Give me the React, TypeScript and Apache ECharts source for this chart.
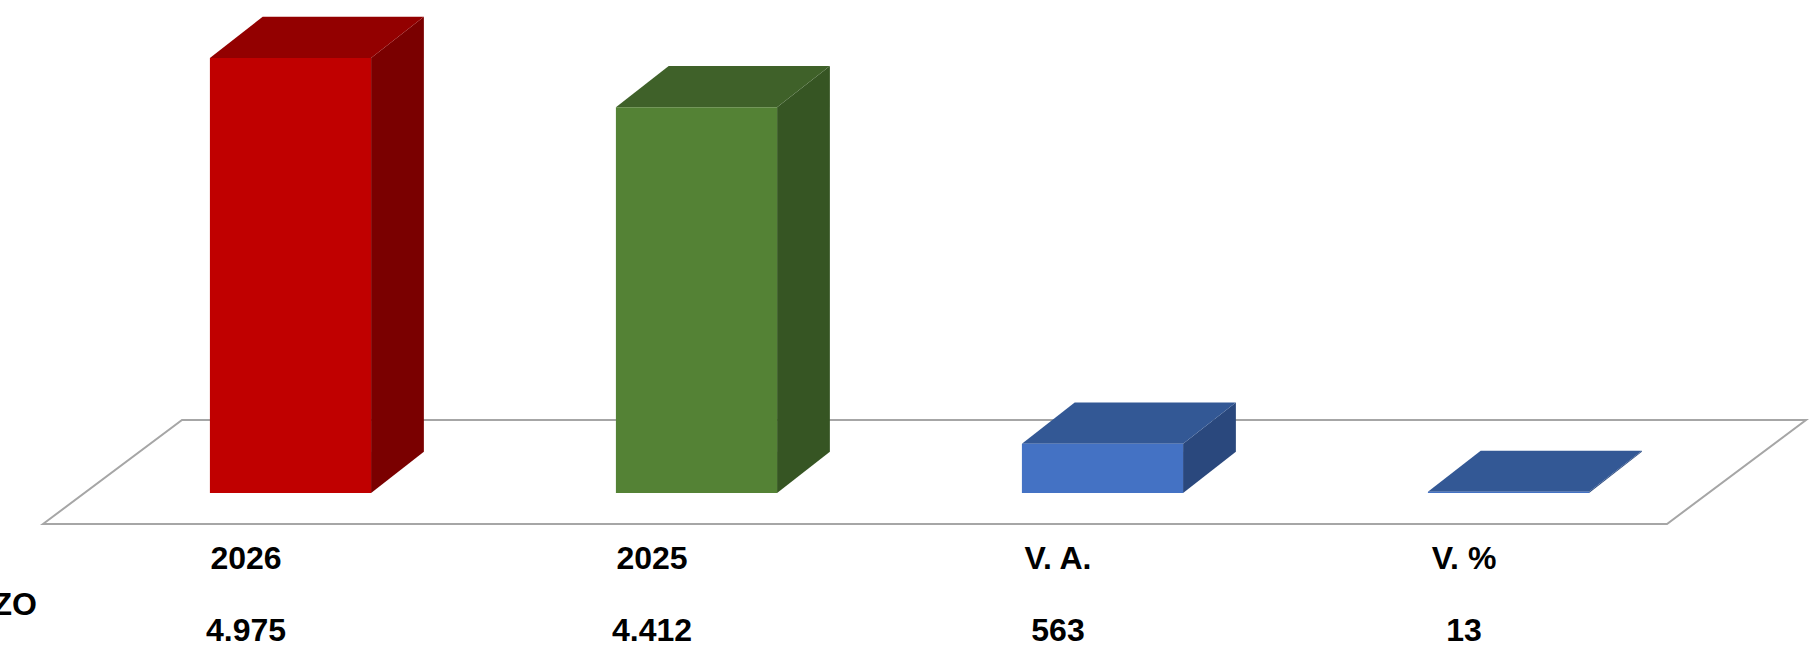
import React, { useEffect, useRef } from "react";
import * as echarts from "echarts";

// ---- data ----
const categories = ["2026", "2025", "V. A.", "V. %"];
const values = [4975, 4412, 563, 13];
const rowName = "MARZO";

// ---- styles ----
const faceColors = [
  { front: "#C00000", top: "#930000", side: "#7A0000" },
  { front: "#548235", top: "#3F6129", side: "#365523" },
  { front: "#4472C4", top: "#335895", side: "#2A487D" },
  { front: "#4472C4", top: "#335895", side: "#2A487D" },
];

const W = 1819;
const H = 651;
const BAND_W = 1624;
const LABEL_LEFT = 43;
const BAR_SHIFT_X = 44.5;
const BASE_Y = 493;
const Y_MAX = 5000;
const PLOT_H = (Y_MAX * 435) / 4975;
const FONT = "'Liberation Sans', Arial, sans-serif";

const fmt = (n: number) => String(n).replace(/\B(?=(\d{3})+(?!\d))/g, ".");

export default function App() {
  const ref = useRef<HTMLDivElement>(null);

  useEffect(() => {
    document.body.style.margin = "0";
    if (!ref.current) return;
    const chart = echarts.init(ref.current, undefined, { renderer: "svg" });

    const gridTop = BASE_Y - PLOT_H;
    const gridBottom = H - BASE_Y;
    const barLeft = LABEL_LEFT + BAR_SHIFT_X;

    // floor geometry
    const fy = 524;
    const by = 420;
    const fdx = 139;

    const axisCommon = {
      type: "category" as const,
      data: categories,
      axisLine: { show: false },
      axisTick: { show: false },
      splitLine: { show: false },
    };

    chart.setOption({
      animation: false,
      backgroundColor: "#ffffff",
      grid: [
        { left: barLeft, width: BAND_W, top: gridTop, bottom: gridBottom },
        { left: LABEL_LEFT, width: BAND_W, top: gridTop, bottom: gridBottom },
      ],
      xAxis: [
        { ...axisCommon, gridIndex: 0, axisLabel: { show: false } },
        {
          ...axisCommon,
          gridIndex: 1,
          position: "bottom",
          axisLabel: {
            margin: 49,
            fontSize: 32,
            fontWeight: "bold",
            color: "#000",
            fontFamily: FONT,
          },
        },
        {
          ...axisCommon,
          gridIndex: 1,
          position: "bottom",
          offset: 72,
          axisLabel: {
            margin: 49,
            fontSize: 32,
            fontWeight: "bold",
            color: "#000",
            fontFamily: FONT,
            formatter: (_v: string, i: number) => fmt(values[i]),
          },
        },
      ],
      yAxis: [
        { type: "value", gridIndex: 0, min: 0, max: Y_MAX, show: false },
        { type: "value", gridIndex: 1, min: 0, max: Y_MAX, show: false },
      ],
      graphic: [
        {
          type: "polygon",
          z: -1,
          shape: {
            points: [
              [LABEL_LEFT, fy],
              [LABEL_LEFT + fdx, by],
              [LABEL_LEFT + BAND_W + fdx, by],
              [LABEL_LEFT + BAND_W, fy],
            ],
          },
          style: { fill: "#ffffff", stroke: "#A6A6A6", lineWidth: 2 },
        },
        {
          type: "text",
          x: 37,
          y: 604,
          style: {
            text: rowName,
            align: "right",
            verticalAlign: "middle",
            fontSize: 32,
            fontWeight: "bold",
            fill: "#000",
            fontFamily: FONT,
          },
        },
      ],
      series: [
        {
          type: "custom",
          xAxisIndex: 0,
          yAxisIndex: 0,
          data: values.map((v, i) => [i, v]),
          encode: { x: 0, y: 1 },
          renderItem: (params: any, api: any) => {
            const idx = api.value(0);
            const v = api.value(1);
            const base = api.coord([idx, 0]);
            const top = api.coord([idx, v]);
            const band = api.size([1, 0])[0];
            const w = band * 0.397;
            const dx = band * 0.13;
            const dy = dx * 0.78;
            const x0 = base[0] - w / 2;
            const x1 = base[0] + w / 2;
            const yb = base[1];
            const yt = Math.min(top[1], yb - 0.5);
            const c = faceColors[params.dataIndex];
            return {
              type: "group",
              children: [
                {
                  type: "polygon",
                  shape: { points: [[x1, yb], [x1 + dx, yb - dy], [x1 + dx, yt - dy], [x1, yt]] },
                  style: { fill: c.side },
                },
                {
                  type: "polygon",
                  shape: { points: [[x0, yt], [x1, yt], [x1 + dx, yt - dy], [x0 + dx, yt - dy]] },
                  style: { fill: c.top },
                },
                {
                  type: "polygon",
                  shape: { points: [[x0, yb], [x1, yb], [x1, yt], [x0, yt]] },
                  style: { fill: c.front },
                },
              ],
            };
          },
        },
      ],
    });

    return () => chart.dispose();
  }, []);

  return <div ref={ref} style={{ width: W, height: H }} />;
}
